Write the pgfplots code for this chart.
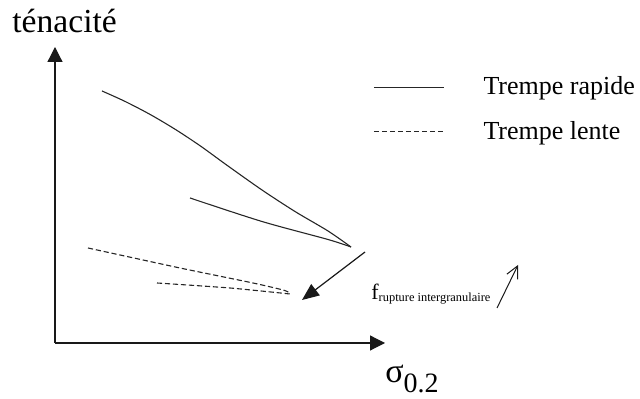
\documentclass[border=0pt]{standalone}
\usepackage{fontspec}
\setmainfont{Liberation Serif}
\usepackage{pgfplots}
\pgfplotsset{compat=1.18}
\usetikzlibrary{arrows.meta}
\begin{document}
\begin{tikzpicture}
\begin{axis}[
    scale only axis, width=165pt, height=148pt,
    xmin=0, xmax=330, ymin=0, ymax=296,
    axis lines=left, ticks=none, clip=false,
    axis line style={line width=0.6pt, black!90, -{Triangle[length=7.5pt,width=7.5pt]}},
    legend image code/.code={\draw[#1] (0pt,0pt) -- (35pt,0pt);},
    legend style={at={(axis cs:318,233.5)}, anchor=west, draw=none, fill=none,
        font=\fontsize{13}{13}\selectfont, inner sep=0pt, row sep=11.5pt,
        nodes={inner sep=0pt, anchor=west},
        /tikz/every odd column/.append style={column sep=19.5pt}},
    legend cell align=left,
]
% trempe rapide
\addplot[black!85, line width=0.55pt, smooth] coordinates {
    (47,252) (70,241.6) (95,228.6) (120,213.8) (145,197.3) (173,177) (207,153) (240,131.5) (273,112) (296,96)};
\addlegendentry{Trempe rapide}
\addplot[black!85, line width=0.55pt, smooth, tension=0.5, forget plot] coordinates {
    (135,145) (207,121.5) (273,103.5) (296,96)};
% trempe lente
\addplot[black!85, line width=0.55pt, smooth, tension=0.4, dash pattern=on 2.6pt off 1.4pt] coordinates {
    (33,95) (125,75) (198,60) (228,53) (235,50)};
\addlegendentry{Trempe lente}
\addplot[black!85, line width=0.55pt, smooth, tension=0.4, dash pattern=on 2.6pt off 1.4pt, forget plot] coordinates {
    (102,60) (175,55) (235,49)};
% annotations
\draw[black!90, line width=0.6pt, -{Triangle[length=8.5pt,width=7pt]}] (axis cs:310,91) -- (axis cs:247,43);
\draw[black!90, line width=0.5pt, -{Straight Barb[length=6pt,width=6pt]}] (axis cs:442,35) -- (axis cs:463,78);
\node[anchor=base west, inner sep=0pt] at (axis cs:316,43)
    {\fontsize{11}{11}\selectfont f\raisebox{-1pt}{\fontsize{6.2}{6.2}\selectfont rupture intergranulaire}};
\node[anchor=base west, inner sep=0pt] at (axis cs:-43,310) {\fontsize{16.8}{16.8}\selectfont ténacité};
\node[anchor=base west, inner sep=0pt] at (axis cs:330,-40)
    {\fontsize{17}{17}\selectfont σ\raisebox{-5pt}{\fontsize{14}{14}\selectfont 0.2}};
\path (axis cs:-55,-56) rectangle (axis cs:585,343);
\end{axis}
\end{tikzpicture}
\end{document}
